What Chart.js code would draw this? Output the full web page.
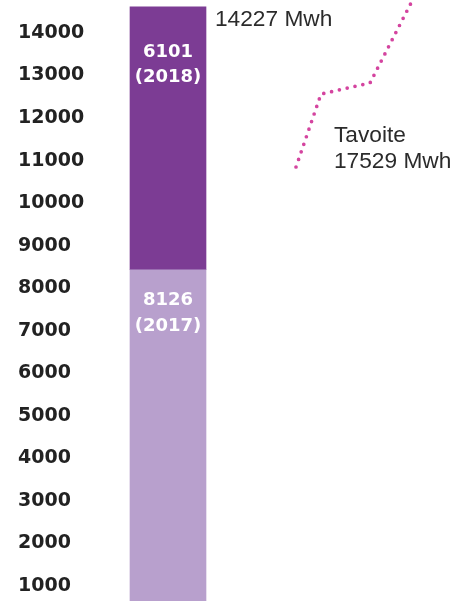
<!DOCTYPE html>
<html>
<head>
<meta charset="utf-8">
<script src="https://cdn.jsdelivr.net/npm/chart.js@4.4.0/dist/chart.umd.min.js"></script>
<style>
  html, body { margin: 0; padding: 0; background: #fff; }
  #wrap { width: 456px; height: 601px; position: relative; }
</style>
</head>
<body>
<div id="wrap"><canvas id="myChart"></canvas></div>
<script>
// data
const years = ['2017', '2018'];
const consumption = [8126, 6101];
const barColors = ['#b8a0cd', '#7c3c94'];
const barPos = 68;
const yTicks = [1000, 2000, 3000, 4000, 5000, 6000, 7000, 8000, 9000, 10000, 11000, 12000, 13000, 14000];
const target = 17529;
const trendX = [196, 221, 270, 311, 316];
const trendY = [10850, 12566, 12825, 14705, 14940];

const total = consumption.reduce((a, b) => a + b, 0);

const labelsPlugin = {
    id: 'labels',
    afterDatasetsDraw(chart) {
        const ctx = chart.ctx;
        ctx.save();

        // values inside the bar segments
        const offsets = [[31, 57], [46, 71]];
        ctx.fillStyle = '#fff';
        ctx.font = 'bold 18px "DejaVu Sans"';
        ctx.textAlign = 'center';
        ctx.textBaseline = 'middle';
        years.forEach((year, i) => {
            const bar = chart.getDatasetMeta(i).data[0];
            ctx.fillText(String(consumption[i]), bar.x, bar.y + offsets[i][0]);
            ctx.fillText(`(${year})`, bar.x, bar.y + offsets[i][1]);
        });

        // total next to the bar top
        ctx.fillStyle = '#2b2b2b';
        ctx.font = '22.7px "Liberation Sans"';
        ctx.textAlign = 'left';
        const top = chart.getDatasetMeta(1).data[0];
        ctx.fillText(`${total} Mwh`, top.x + top.width / 2 + 9, top.y + 13);

        // target label beside the dotted line
        const knee = chart.getDatasetMeta(2).data[1];
        ctx.fillText('Tavoite', knee.x + 13, knee.y + 42);
        ctx.fillText(`${target} Mwh`, knee.x + 13, knee.y + 68);

        ctx.restore();
    }
};

const datasets = years.map((year, i) => ({
    type: 'bar',
    label: year,
    data: [{ x: barPos, y: consumption[i] }],
    backgroundColor: barColors[i],
    barThickness: 76,
    stack: 'total',
    xAxisID: 'x',
    yAxisID: 'y2'
}));

datasets.push({
    type: 'line',
    label: 'Tavoite',
    data: trendX.map((x, i) => ({ x, y: trendY[i] })),
    borderColor: '#d4449f',
    borderWidth: 3.7,
    borderDash: [0, 8],
    borderCapStyle: 'round',
    pointRadius: 0,
    fill: false,
    tension: 0,
    xAxisID: 'x',
    yAxisID: 'y'
});

const config = {
    type: 'bar',
    data: { datasets },
    options: {
        responsive: true,
        maintainAspectRatio: false,
        devicePixelRatio: 1,
        animation: false,
        layout: { padding: { left: 18, top: 0, right: 0, bottom: 0 } },
        plugins: {
            legend: { display: false },
            tooltip: { enabled: false }
        },
        scales: {
            x: {
                type: 'linear',
                display: false,
                min: 0,
                max: 356,
                offset: false
            },
            y: {
                position: 'left',
                min: 647,
                max: 14776,
                grid: { display: false },
                border: { display: false },
                afterBuildTicks: s => { s.ticks = yTicks.map(v => ({ value: v })); },
                afterFit: s => { s.width = 82; s.paddingTop = 0; s.paddingBottom = 0; },
                ticks: {
                    autoSkip: false,
                    crossAlign: 'far',
                    color: '#222',
                    font: { family: 'DejaVu Sans', size: 19, weight: 'bold' },
                    callback: v => String(v)
                }
            },
            y2: {
                display: false,
                stacked: true,
                min: 441,
                max: 14385
            }
        }
    },
    plugins: [labelsPlugin]
};

const myChart = document.getElementById('myChart');
new Chart(myChart, config);
</script>
</body>
</html>
